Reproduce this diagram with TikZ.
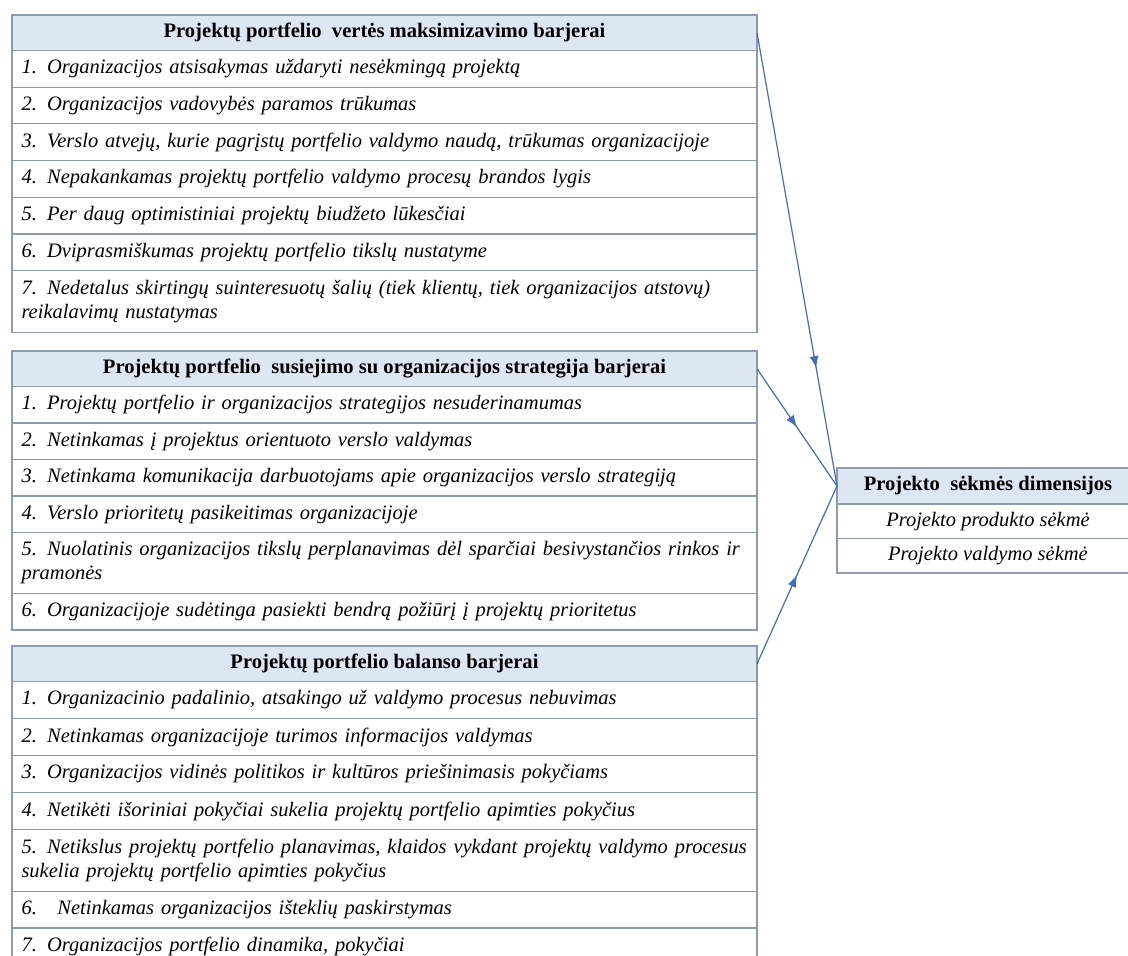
\documentclass[tikz,border=0pt]{standalone}
\usepackage{fontspec}
\setmainfont{Liberation Serif}
\usetikzlibrary{arrows.meta,decorations.markings,positioning}
\definecolor{hdrblue}{RGB}{221,231,244}
\definecolor{framegray}{RGB}{145,153,172}
\definecolor{arrowblue}{RGB}{70,108,182}
\newcommand{\rowfont}{\fontsize{10.25}{12}\selectfont\itshape}
\newcommand{\hdrfont}{\fontsize{10.3}{12}\selectfont\bfseries}

\begin{document}
\begin{tikzpicture}[x=0.5pt,y=-0.5pt,
  hdr/.style={draw=framegray,fill=hdrblue,line width=0.6pt,minimum width=372.5pt,
    minimum height=17.75pt,inner sep=0pt,outer sep=0pt,font=\hdrfont},
  row/.style={draw=framegray,line width=0.6pt,minimum width=372.5pt,text width=363pt,
    minimum height=#1,inner xsep=4.75pt,inner ysep=2.5pt,outer sep=0pt,align=left,
    font=\rowfont},
  cell/.style={draw=framegray,line width=0.6pt,minimum width=151pt,minimum height=17.25pt,
    inner sep=0pt,outer sep=0pt,font=\rowfont},
  feed/.style={arrowblue,line width=0.6pt,postaction={decorate},
    decoration={markings,mark=at position #1 with {\arrow{Latex[length=6pt,width=4.5pt]}}}}]
  \useasboundingbox (0,0) rectangle (1128,956);
  % first group of barriers
  \node[hdr,anchor=north west] (b1r0) at (12,15) {Projektų portfelio \ vertės maksimizavimo barjerai};
  \foreach \i/\h/\txt in {
      1/18.35pt/{1.\enspace Organizacijos atsisakymas uždaryti nesėkmingą projektą},
      2/18.35pt/{2.\enspace Organizacijos vadovybės paramos trūkumas},
      3/18.35pt/{3.\enspace Verslo atvejų, kurie pagrįstų portfelio valdymo naudą, trūkumas organizacijoje},
      4/18.35pt/{4.\enspace Nepakankamas projektų portfelio valdymo procesų brandos lygis},
      5/18.35pt/{5.\enspace Per daug optimistiniai projektų biudžeto lūkesčiai},
      6/18.35pt/{6.\enspace Dviprasmiškumas projektų portfelio tikslų nustatyme},
      7/31pt/{7.\enspace Nedetalus skirtingų suinteresuotų šalių (tiek klientų, tiek organizacijos atstovų)\\reikalavimų nustatymas}}{
    \pgfmathtruncatemacro\j{\i-1}
    \node[row=\h,below=0pt of b1r\j] (b1r\i) {\txt};
  }
  % second group
  \node[hdr,anchor=north west] (b2r0) at (12,351) {Projektų portfelio \ susiejimo su organizacijos strategija barjerai};
  \foreach \i/\h/\txt in {
      1/18.25pt/{1.\enspace Projektų portfelio ir organizacijos strategijos nesuderinamumas},
      2/18.25pt/{2.\enspace Netinkamas į projektus orientuoto verslo valdymas},
      3/18.25pt/{3.\enspace Netinkama komunikacija darbuotojams apie organizacijos verslo strategiją},
      4/18.25pt/{4.\enspace Verslo prioritetų pasikeitimas organizacijoje},
      5/30.5pt/{5.\enspace Nuolatinis organizacijos tikslų perplanavimas dėl sparčiai besivystančios rinkos ir\\pramonės},
      6/18.25pt/{6.\enspace Organizacijoje sudėtinga pasiekti bendrą požiūrį į projektų prioritetus}}{
    \pgfmathtruncatemacro\j{\i-1}
    \node[row=\h,below=0pt of b2r\j] (b2r\i) {\txt};
  }
  % third group
  \node[hdr,anchor=north west] (b3r0) at (12,646) {Projektų portfelio balanso barjerai};
  \foreach \i/\h/\txt in {
      1/18.5pt/{1.\enspace Organizacinio padalinio, atsakingo už valdymo procesus nebuvimas},
      2/18.5pt/{2.\enspace Netinkamas organizacijoje turimos informacijos valdymas},
      3/18.5pt/{3.\enspace Organizacijos vidinės politikos ir kultūros priešinimasis pokyčiams},
      4/18.5pt/{4.\enspace Netikėti išoriniai pokyčiai sukelia projektų portfelio apimties pokyčius},
      5/31pt/{5.\enspace Netikslus projektų portfelio planavimas, klaidos vykdant projektų valdymo procesus\\sukelia projektų portfelio apimties pokyčius},
      6/18.25pt/{6.\quad Netinkamas organizacijos išteklių paskirstymas},
      7/18.5pt/{7.\enspace Organizacijos portfelio dinamika, pokyčiai}}{
    \pgfmathtruncatemacro\j{\i-1}
    \node[row=\h,below=0pt of b3r\j] (b3r\i) {\txt};
  }
  % success dimensions
  \node[hdr,minimum width=151pt,minimum height=18pt,anchor=north west] (dim0) at (837,468) {Projekto \ sėkmės dimensijos};
  \node[cell,below=0pt of dim0] (dim1) {Projekto produkto sėkmė};
  \node[cell,below=0pt of dim1] (dim2) {Projekto valdymo sėkmė};
  \draw[feed=0.74] (b1r0.east) -- (dim0.west);
  \draw[feed=0.5] (b2r0.east) -- (dim0.west);
  \draw[feed=0.5] (b3r0.east) -- (dim0.west);
\end{tikzpicture}
\end{document}
